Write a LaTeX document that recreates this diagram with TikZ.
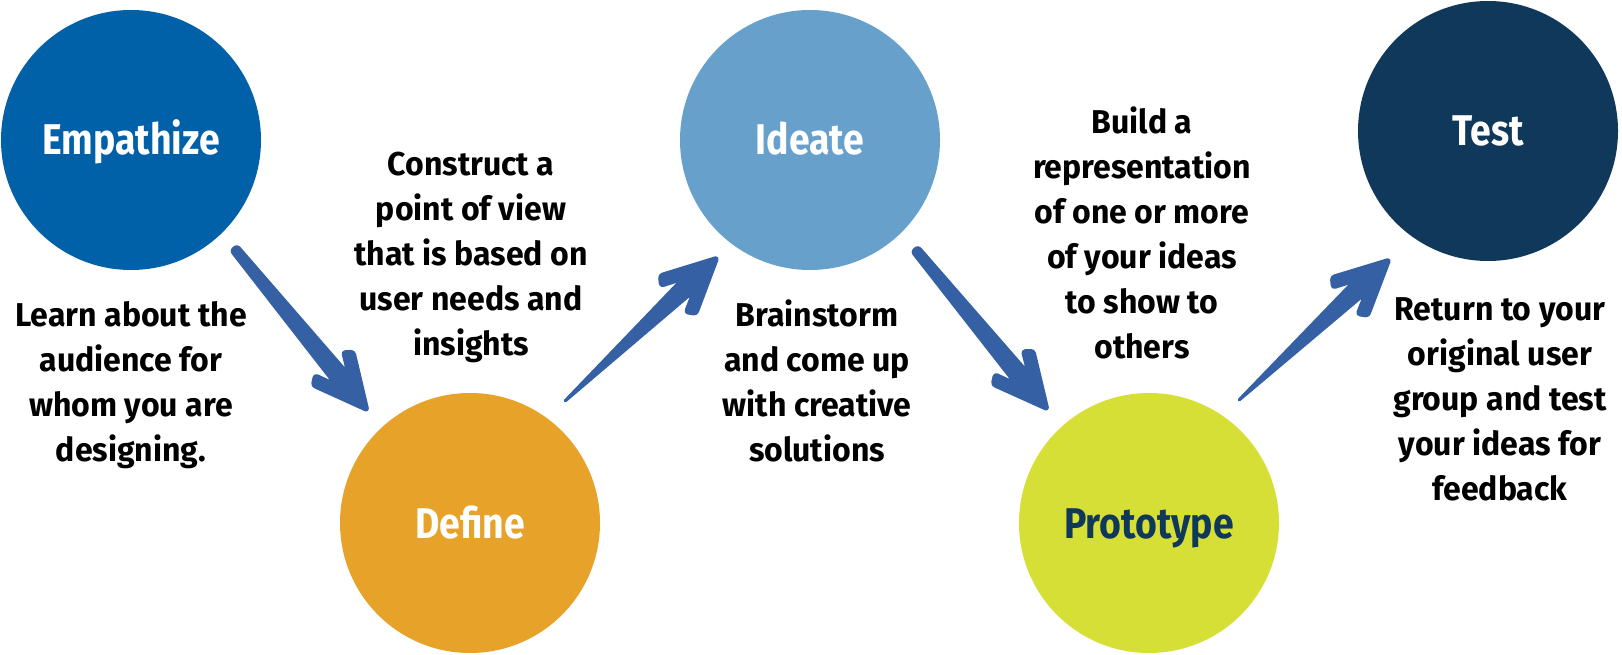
\documentclass[tikz,border=0pt]{standalone}
\usepackage{fontspec}
\setmainfont{Fira Sans}[FakeStretch=0.97]
\newfontfamily\stagefont{Fira Sans}[FakeStretch=0.87]
\usetikzlibrary{calc}

\definecolor{empblue}{RGB}{0,97,168}
\definecolor{defgold}{RGB}{230,162,41}
\definecolor{idesky}{RGB}{104,160,204}
\definecolor{prolime}{RGB}{214,223,53}
\definecolor{testnavy}{RGB}{16,56,91}
\definecolor{arrowblue}{RGB}{53,96,163}

% Hand-drawn style arrow head from #1 towards #2 (used by both arrow kinds)
\newcommand\arrowhead[2]{%
    -- ($(#2)!42pt!(#1)!8.5pt!-90:(#1)$)
    -- ($(#2)!62pt!(#1)!18pt!-90:(#1)$)
    -- ($(#2)!55pt!(#1)!27pt!-90:(#1)$)
    -- (#2)
    -- ($(#2)!55pt!(#1)!27pt!90:(#1)$)
    -- ($(#2)!62pt!(#1)!18pt!90:(#1)$)
    -- ($(#2)!42pt!(#1)!8.5pt!90:(#1)$)}

% arrow with a blunt tail of half-width #3
\newcommand\bluntarrow[3]{%
  \path[arrowshape] ($(#1)!#3!90:(#2)$) \arrowhead{#1}{#2}
    -- ($(#1)!#3!-90:(#2)$) -- cycle;}

% arrow whose tail tapers to a point
\newcommand\taperarrow[2]{%
  \path[arrowshape] (#1) \arrowhead{#1}{#2} -- cycle;}

\begin{document}
\begin{tikzpicture}[x=1pt,y=-1pt,
  stage/.style={circle, inner sep=0pt, minimum size=260pt,
    font=\stagefont\bfseries\fontsize{43}{50}\selectfont, text height=30pt, text depth=0pt},
  blurb/.style={align=center, anchor=base, inner sep=0pt,
    font=\bfseries\fontsize{33}{45}\selectfont},
  arrowshape/.style={fill=arrowblue, draw=arrowblue, line width=3pt,
    line join=round, rounded corners=3pt}]

\fill[white] (0,0) rectangle (1622,655);
\useasboundingbox (0,0) rectangle (1622,655);

% the five stages
\node[stage, fill=empblue, text=white]    (emp)  at (131,140)  {Empathize};
\node[stage, fill=defgold, text=white]    (def)  at (470,523)  {Define};
\node[stage, fill=idesky, text=white]     (ide)  at (810,140)  {Ideate};
\node[stage, fill=prolime, text=testnavy] (pro)  at (1149,523) {Prototype};
\node[stage, fill=testnavy, text=white]   (tst)  at (1488,131) {Test};

% descriptions (positioned by the baseline of their last line)
\node[blurb] (empT) at (131,461)  {Learn about the\\audience for\\whom you are\\designing.};
\node[blurb] (defT) at (471,355)  {Construct a\\point of view\\that is based on\\user needs and\\insights};
\node[blurb] (ideT) at (817,461)  {Brainstorm\\and come up\\with creative\\solutions};
\node[blurb] (proT) at (1142,358) {Build a\\representation\\of one or more\\of your ideas\\to show to\\others};
\node[blurb] (tstT) at (1500,500) {Return to your\\original user\\group and test\\your ideas for\\feedback};

% arrow end points
\coordinate (a1s) at (234,248);  \coordinate (a1e) at (368,411);
\coordinate (a2s) at (564,402);  \coordinate (a2e) at (718,257);
\coordinate (a3s) at (915,249);  \coordinate (a3e) at (1048,410);
\coordinate (a4s) at (1238,401); \coordinate (a4e) at (1390,259);

\bluntarrow{a1s}{a1e}{4pt}
\taperarrow{a2s}{a2e}
\bluntarrow{a3s}{a3e}{4pt}
\taperarrow{a4s}{a4e}
\end{tikzpicture}
\end{document}
